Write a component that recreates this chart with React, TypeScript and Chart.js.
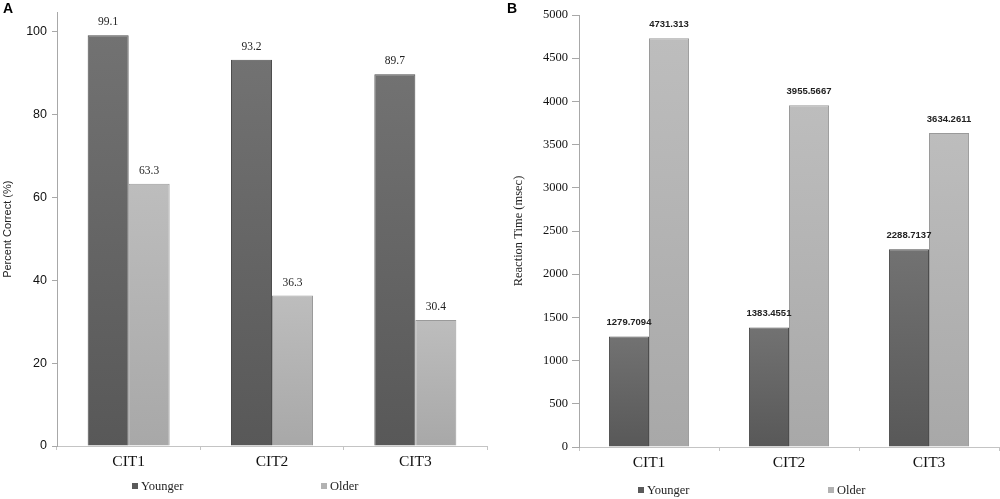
import React, { useEffect, useRef } from "react";
import { Chart, registerables } from "chart.js";
Chart.register(...registerables);

// ---- data ----
const categories = ["CIT1", "CIT2", "CIT3"];
const seriesNames = ["Younger", "Older"];
const percentYounger = [99.1, 93.2, 89.7];
const percentOlder = [63.3, 36.3, 30.4];
const rtYounger = [1279.7094, 1383.4551, 2288.7137];
const rtOlder = [4731.313, 3955.5667, 3634.2611];
const percentTicks = [0, 20, 40, 60, 80, 100];
const rtTicks = [0, 500, 1000, 1500, 2000, 2500, 3000, 3500, 4000, 4500, 5000];
const percentTitle = "Percent Correct (%)";
const rtTitle = "Reaction Time (msec)";

type Panel = {
  younger: number[];
  older: number[];
  ticks: number[];
  max: number;
  yTitle: string;
  yTitleFont: { family: string; size: number };
  tickFont: { family: string; size: number };
  dataFont: string;
  dataOffset: number;
  yWidth: number;
  xHeight: number;
  padTop: number;
  padRight: number;
  titlePad: number;
  tickLen: number;
  tickPad: number;
  legendX: number[];
  legendY: number;
};

const DARK_TOP = "#727272";
const DARK_BOT = "#585858";
const LIGHT_TOP = "#bdbdbd";
const LIGHT_BOT = "#a8a8a8";

function gradientFill(top: string, bot: string) {
  return (c: any) => {
    const chart = c.chart;
    const y = chart.scales && chart.scales.y;
    if (!chart.chartArea || !y || c.raw === undefined) return bot;
    const t = y.getPixelForValue(c.raw);
    const b = y.getPixelForValue(0);
    if (!isFinite(t) || !isFinite(b) || t === b) return bot;
    const g = chart.ctx.createLinearGradient(0, t, 0, b);
    g.addColorStop(0, top);
    g.addColorStop(1, bot);
    return g;
  };
}

function makeChart(canvas: HTMLCanvasElement, p: Panel) {
  const dataLabels = {
    id: "dataLabels",
    afterDatasetsDraw(chart: any) {
      const ctx = chart.ctx;
      ctx.save();
      ctx.font = p.dataFont;
      ctx.fillStyle = "#222";
      ctx.textAlign = "center";
      ctx.textBaseline = "middle";
      chart.data.datasets.forEach((ds: any, i: number) => {
        const meta = chart.getDatasetMeta(i);
        meta.data.forEach((el: any, j: number) => {
          ctx.fillText(String(ds.data[j]), el.x, el.y - p.dataOffset);
        });
      });
      ctx.restore();
    },
  };
  const legend = {
    id: "customLegend",
    afterDraw(chart: any) {
      const ctx = chart.ctx;
      ctx.save();
      ctx.font = "12.5px 'Liberation Serif'";
      ctx.textBaseline = "middle";
      ctx.textAlign = "left";
      chart.data.datasets.forEach((ds: any, i: number) => {
        const x = p.legendX[i];
        ctx.fillStyle = ds.legendColor;
        ctx.fillRect(x, p.legendY - 3, 6, 6);
        ctx.fillStyle = "#222";
        ctx.fillText(ds.label, x + 9, p.legendY + 0.5);
      });
      ctx.restore();
    },
  };
  return new Chart(canvas, {
    type: "bar",
    data: {
      labels: categories,
      datasets: [
        {
          label: seriesNames[0],
          data: p.younger,
          backgroundColor: gradientFill(DARK_TOP, DARK_BOT) as any,
          borderColor: "#4d4d4d",
          borderWidth: 1,
          legendColor: "#5a5a5a",
          barPercentage: 1,
          categoryPercentage: 0.572,
        } as any,
        {
          label: seriesNames[1],
          data: p.older,
          backgroundColor: gradientFill(LIGHT_TOP, LIGHT_BOT) as any,
          borderColor: "#9a9a9a",
          borderWidth: 1,
          legendColor: "#b2b2b2",
          barPercentage: 1,
          categoryPercentage: 0.572,
        } as any,
      ],
    },
    options: {
      responsive: false,
      animation: false,
      devicePixelRatio: 1,
      layout: { padding: { top: p.padTop, right: p.padRight, left: 0, bottom: 0 } },
      plugins: { legend: { display: false }, tooltip: { enabled: false } },
      scales: {
        x: {
          grid: { display: true, drawOnChartArea: false, offset: true, tickLength: 4, color: "#c4c4c4" },
          border: { color: "#c4c4c4", width: 1 },
          ticks: { font: { family: "Liberation Serif", size: 15.5 }, color: "#111", padding: 3 },
          afterFit: (s: any) => {
            s.height = p.xHeight;
          },
        },
        y: {
          min: 0,
          max: p.max,
          afterBuildTicks: (s: any) => {
            s.ticks = p.ticks.map((v) => ({ value: v }));
          },
          grid: { drawOnChartArea: false, tickLength: p.tickLen, color: "#a8a8a8" },
          border: { color: "#a8a8a8", width: 1 },
          ticks: {
            font: p.tickFont,
            color: "#111",
            padding: p.tickPad,
            callback: (v: any) => String(v),
          },
          title: {
            display: true,
            text: p.yTitle,
            font: p.yTitleFont,
            color: "#222",
            padding: { top: p.titlePad, bottom: 0 },
          },
          afterFit: (s: any) => {
            s.width = p.yWidth;
          },
        },
      },
    } as any,
    plugins: [dataLabels, legend],
  });
}

const panelA: Panel = {
  younger: percentYounger,
  older: percentOlder,
  ticks: percentTicks,
  max: 104.6,
  yTitle: percentTitle,
  yTitleFont: { family: "Liberation Sans", size: 11 },
  tickFont: { family: "Liberation Sans", size: 12.5 },
  dataFont: "11.5px 'Liberation Serif'",
  dataOffset: 13,
  yWidth: 57,
  xHeight: 53,
  padTop: 12,
  padRight: 13,
  titlePad: 1,
  tickLen: 5,
  tickPad: 5,
  legendX: [132, 321],
  legendY: 486,
};

const panelB: Panel = {
  younger: rtYounger,
  older: rtOlder,
  ticks: rtTicks,
  max: 5000,
  yTitle: rtTitle,
  yTitleFont: { family: "Liberation Serif", size: 12.5 },
  tickFont: { family: "Liberation Serif", size: 12.5 },
  dataFont: "bold 9.5px 'Liberation Sans'",
  dataOffset: 14,
  yWidth: 79,
  xHeight: 52,
  padTop: 15,
  padRight: 1,
  titlePad: 11,
  tickLen: 7,
  tickPad: 4,
  legendX: [138, 328],
  legendY: 490,
};

export default function App() {
  const refA = useRef<HTMLCanvasElement>(null);
  const refB = useRef<HTMLCanvasElement>(null);
  useEffect(() => {
    const a = makeChart(refA.current!, panelA);
    const b = makeChart(refB.current!, panelB);
    return () => {
      a.destroy();
      b.destroy();
    };
  }, []);
  const letter: React.CSSProperties = {
    position: "absolute",
    top: 1,
    font: "bold 14px 'Liberation Sans'",
    lineHeight: "14px",
    color: "#000",
  };
  return (
    <div style={{ position: "absolute", top: 0, left: 0, width: 1000, height: 499, background: "#fff" }}>
      <canvas ref={refA} width={500} height={499} style={{ position: "absolute", left: 0, top: 0, width: 500, height: 499 }} />
      <canvas ref={refB} width={500} height={499} style={{ position: "absolute", left: 500, top: 0, width: 500, height: 499 }} />
      <div style={{ ...letter, left: 3 }}>A</div>
      <div style={{ ...letter, left: 507 }}>B</div>
    </div>
  );
}
